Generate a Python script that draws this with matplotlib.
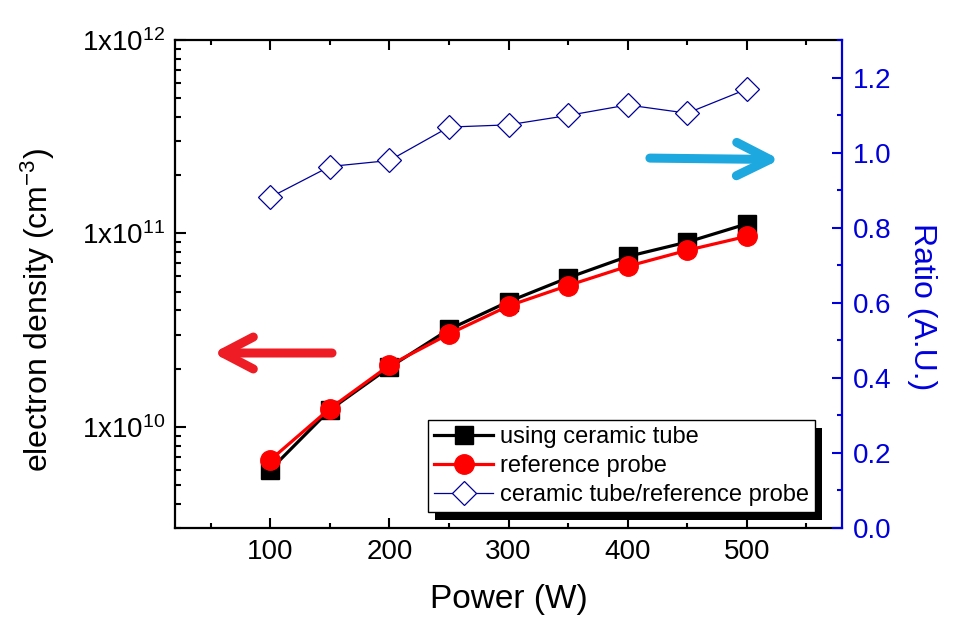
import matplotlib
matplotlib.use("Agg")
import matplotlib.pyplot as plt
from matplotlib.patches import FancyArrowPatch, Rectangle, ArrowStyle
from matplotlib.ticker import FuncFormatter, LogLocator, MultipleLocator, NullFormatter

plt.rcParams['font.family'] = ['Liberation Sans', 'DejaVu Sans']
plt.rcParams['mathtext.fontset'] = 'custom'
plt.rcParams['mathtext.rm'] = 'Liberation Sans'
plt.rcParams['mathtext.it'] = 'Liberation Sans:italic'
plt.rcParams['mathtext.bf'] = 'Liberation Sans:bold'

# ---- data ----
power = [100, 150, 200, 250, 300, 350, 400, 450, 500]
ceramic = [6.0e9, 1.225e10, 2.03e10, 3.19e10, 4.44e10, 5.9e10, 7.6e10, 9.02e10, 1.12e11]
reference = [6.74e9, 1.243e10, 2.08e10, 3.02e10, 4.22e10, 5.38e10, 6.76e10, 8.18e10, 9.66e10]
ratio = [0.881, 0.963, 0.979, 1.068, 1.074, 1.099, 1.127, 1.105, 1.169]
labels = ["using ceramic tube", "reference probe", "ceramic tube/reference probe"]

BLUE = '#0000DD'
NAVY = '#00009A'

fig = plt.figure(figsize=(9.67, 6.27), dpi=100)
ax = fig.add_axes([175/967, 1-528/627, (842-175)/967, (528-40)/627])
ax2 = ax.twinx()

l1, = ax.plot(power, ceramic, color='black', lw=2.3, marker='s', ms=12.5,
              mfc='black', mec='black', zorder=3)
l2, = ax.plot(power, reference, color='#FF0000', lw=2.3, marker='o', ms=14,
              mfc='#FF0000', mec='#FF0000', zorder=4)
l3, = ax2.plot(power, ratio, color=NAVY, lw=0.9, marker='D', ms=12.5,
               mfc='white', mec=NAVY, mew=0.9, zorder=3)

ax.set_yscale('log')
ax.set_ylim(3e9, 1e12)
ax.set_xlim(20, 580)
ax2.set_ylim(0, 1.3)

ax.xaxis.set_major_locator(MultipleLocator(100))
ax.xaxis.set_minor_locator(MultipleLocator(50))
ax.yaxis.set_major_locator(LogLocator(base=10, numticks=10))
ax.yaxis.set_minor_locator(LogLocator(base=10, subs=range(2, 10), numticks=20))
ax.yaxis.set_minor_formatter(NullFormatter())

def sci(v, pos):
    import math
    e = int(round(math.log10(v)))
    return r"1x10$^{%d}$" % e
ax.yaxis.set_major_formatter(FuncFormatter(sci))

ax2.yaxis.set_major_locator(MultipleLocator(0.2))
ax2.yaxis.set_minor_locator(MultipleLocator(0.1))
ax2.yaxis.set_major_formatter(FuncFormatter(lambda v, p: "%.1f" % v))

ax.tick_params(axis='x', which='both', direction='in', top=True, bottom=True,
               labelsize=20, pad=8, width=1.5)
ax.tick_params(axis='x', which='major', length=7)
ax.tick_params(axis='x', which='minor', length=3.6)
ax.tick_params(axis='y', which='both', direction='in', left=True, right=False,
               labelsize=20, pad=7, width=1.5)
ax.tick_params(axis='y', which='major', length=8)
ax.tick_params(axis='y', which='minor', length=4.5)
ax2.tick_params(axis='y', which='both', direction='in', right=True, left=False,
                labelsize=20, pad=8, width=1.5, colors=BLUE)
ax2.tick_params(axis='y', which='major', length=7)
ax2.tick_params(axis='y', which='minor', length=3.6)

for s in ['left', 'top', 'bottom']:
    ax.spines[s].set_linewidth(1.6)
ax.spines['right'].set_visible(False)
for s in ['left', 'top', 'bottom']:
    ax2.spines[s].set_visible(False)
ax2.spines['right'].set_color(BLUE)
ax2.spines['right'].set_linewidth(1.6)

ax.set_xlabel("Power (W)", fontsize=24)
ax.xaxis.set_label_coords(0.5, -0.115)
ax.set_ylabel(r"electron density (cm$^{-3}$)", fontsize=23)
ax.yaxis.set_label_coords(-0.177, 0.447)
ax2.set_ylabel("Ratio (A.U.)", fontsize=23, color=BLUE, rotation=270,
               va='bottom', rotation_mode='anchor')
ax2.yaxis.set_label_coords(1.097, 0.453)

# arrows
red_arrow = FancyArrowPatch((0.2354, 0.3586), (0.057, 0.3586), transform=ax.transAxes,
                            arrowstyle=ArrowStyle('->', head_length=22, head_width=11.5),
                            mutation_scale=1, lw=6.5, color='#EE1C25',
                            shrinkA=0, shrinkB=0, capstyle='round', joinstyle='round',
                            zorder=2)
blue_arrow = FancyArrowPatch((0.712, 0.758), (0.907, 0.755), transform=ax.transAxes,
                             arrowstyle=ArrowStyle('->', head_length=24, head_width=12),
                             mutation_scale=1, lw=6.5, color='#1EA8E0',
                             shrinkA=0, shrinkB=0, capstyle='round', joinstyle='round',
                             zorder=2)
ax.add_patch(red_arrow)
ax.add_patch(blue_arrow)

leg = ax2.legend([l1, l2, l3], labels, loc='lower right',
                 bbox_to_anchor=(0.960, 0.033), bbox_transform=ax.transAxes,
                 fontsize=17, frameon=True, fancybox=False, framealpha=1,
                 edgecolor='black', borderpad=0.25, borderaxespad=0,
                 handlelength=2.5, handletextpad=0.3, labelspacing=0.3,
                 numpoints=1)
leg.get_frame().set_linewidth(1.0)
leg.set_zorder(10)

fig.canvas.draw()
bb = leg.get_window_extent()
inv = ax2.transAxes.inverted()
(x0, y0), (x1, y1) = inv.transform([[bb.x0, bb.y0], [bb.x1, bb.y1]])
ox = 7 / 667
oy = 8 / 488
shadow = Rectangle((x0 + ox, y0 - oy), x1 - x0, y1 - y0, transform=ax2.transAxes,
                   facecolor='black', edgecolor='none', zorder=9, clip_on=False)
ax2.add_patch(shadow)

fig.savefig("out.png", dpi=100)
